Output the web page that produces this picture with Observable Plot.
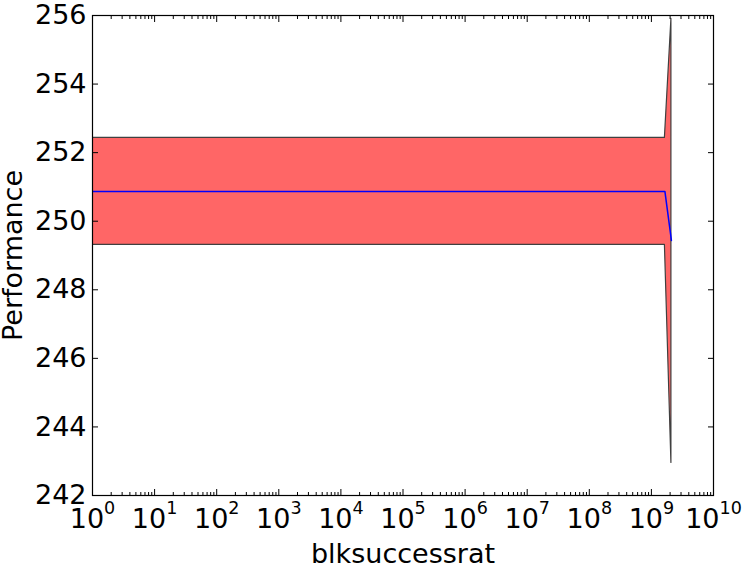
<!DOCTYPE html>
<html><head><meta charset="utf-8">
<script src="https://cdn.jsdelivr.net/npm/d3@7"></script>
<script src="https://cdn.jsdelivr.net/npm/@observablehq/plot@0.6"></script>
<style>body{margin:0;background:#fff} svg{display:block}</style>
</head><body><div id="chart"></div>
<script>
// Data
const xValues = [1, 1.65e9, 2.1e9];
const meanValues = [250.87, 250.87, 249.44];
const upperValues = [252.43, 252.43, 255.9];
const lowerValues = [249.31, 249.31, 242.95];

// Axis ticks
const xMajorTicks = [1e0, 1e1, 1e2, 1e3, 1e4, 1e5, 1e6, 1e7, 1e8, 1e9, 1e10];
const xMinorMultipliers = [2, 3, 4, 5, 6, 7, 8, 9];
const xMinorTicks = xMajorTicks.slice(0, -1).flatMap(p => xMinorMultipliers.map(m => m * p));
const yTicks = [242, 244, 246, 248, 250, 252, 254, 256];
const xLabel = "blksuccessrat";
const yLabel = "Performance";

const data = xValues.map((x, i) => ({x, mean: meanValues[i], upper: upperValues[i], lower: lowerValues[i]}));

const FS = 27;
const chart = Plot.plot({
  width: 744, height: 571,
  marginLeft: 92, marginRight: 31, marginTop: 15, marginBottom: 76,
  style: {fontFamily: "'DejaVu Sans', sans-serif", fontSize: FS + "px", background: "white", color: "black"},
  x: {type: "log", domain: [1, 1e10]},
  y: {domain: [242, 256]},
  marks: [
    Plot.areaY(data, {x: "x", y1: "lower", y2: "upper", fill: "#ff6666", stroke: "#404040", strokeWidth: 1.2, clip: true}),
    Plot.lineY(data, {x: "x", y: "mean", stroke: "#0000ff", strokeWidth: 1.5, clip: true}),
    Plot.frame({stroke: "black", strokeWidth: 1.2}),
    // inward ticks
    Plot.axisX(xMajorTicks, {anchor: "bottom", tickSize: -6, tickFormat: () => "", label: null}),
    Plot.axisX(xMajorTicks, {anchor: "top", tickSize: -6, tickFormat: () => "", label: null}),
    Plot.axisX(xMinorTicks, {anchor: "bottom", tickSize: -3, tickFormat: () => "", label: null}),
    Plot.axisX(xMinorTicks, {anchor: "top", tickSize: -3, tickFormat: () => "", label: null}),
    Plot.axisY(yTicks, {anchor: "left", tickSize: -6, tickFormat: () => "", label: null}),
    Plot.axisY(yTicks, {anchor: "right", tickSize: -6, tickFormat: () => "", label: null}),
    // tick labels
    Plot.axisX(xMajorTicks, {anchor: "bottom", tickSize: 0, tickPadding: 13, fontSize: FS,
      tickFormat: d => "10^" + Math.round(Math.log10(d)), label: null}),
    Plot.axisY(yTicks, {anchor: "left", tickSize: 0, tickPadding: 6, fontSize: FS, tickFormat: d => String(d), label: null}),
    // axis titles
    Plot.text([xLabel], {text: d => d, frameAnchor: "bottom", lineAnchor: "middle", textAnchor: "middle", dy: 58.4, fontSize: FS}),
    Plot.text([yLabel], {text: d => d, frameAnchor: "left", lineAnchor: "middle", textAnchor: "middle", dx: -79.5, rotate: -90, fontSize: FS})
  ]
});

// render exponents as superscripts
d3.select(chart).selectAll('g[aria-label="x-axis tick label"] text').each(function() {
  const t = this.textContent;
  if (t.includes("^")) {
    const [b, e] = t.split("^");
    const s = d3.select(this);
    s.text(b);
    s.append("tspan").attr("dy", -14).attr("font-size", "0.65em").text(e);
  }
});

document.getElementById("chart").appendChild(chart);
</script>
</body></html>
